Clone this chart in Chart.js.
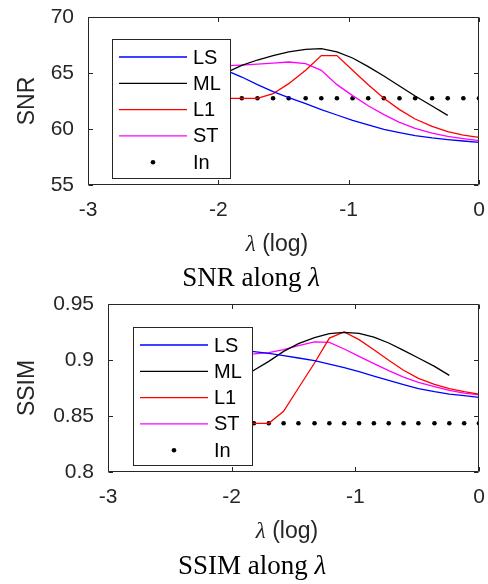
<!DOCTYPE html>
<html>
<head>
<meta charset="utf-8">
<script src="https://cdn.jsdelivr.net/npm/chart.js@4.4.1/dist/chart.umd.min.js"></script>
<style>
  body { margin: 0; background: #fff; }
  #wrap { position: relative; width: 488px; height: 584px; }
  canvas { position: absolute; left: 0; }
  .lab { position: absolute; white-space: nowrap; transform: translateX(-50%); }
  .xl { font: 23px/28px "Liberation Sans", Arial, sans-serif; color: #262626; }
  .cap { font: 27px/32px "Liberation Serif", "Times New Roman", serif; color: #000; }
  .lam { font-family: "Liberation Serif", serif; font-style: italic; }
</style>
</head>
<body>
<div id="wrap">
  <canvas id="snr" width="488" height="292" style="top:0"></canvas>
  <canvas id="ssim" width="488" height="292" style="top:292px"></canvas>
  <div class="lab xl" style="left:277px;top:229px"><span class="lam">λ</span> (log)</div>
  <div class="lab cap" style="left:251px;top:261px">SNR along <span class="lam">λ</span></div>
  <div class="lab xl" style="left:287px;top:516px"><span class="lam">λ</span> (log)</div>
  <div class="lab cap" style="left:252px;top:549px">SSIM along <span class="lam">λ</span></div>
</div>
<script>
// log10(lambda) sample points
var lambda = [-1.94, -1.82, -1.70, -1.58, -1.46, -1.33, -1.21, -1.09, -0.97, -0.85, -0.73, -0.61, -0.49, -0.36, -0.24, -0.12, 0];
var xTicks = [-3, -2, -1, 0];

var names = ['LS', 'ML', 'L1', 'ST', 'In'];
var colors = ['#0000ff', '#000000', '#ff0000', '#ff00ff', '#000000'];

var snrTicks = [55, 60, 65, 70];
var snrLS = [65.24, 64.64, 63.96, 63.33, 62.80, 62.26, 61.73, 61.25, 60.77, 60.36, 59.97, 59.67, 59.40, 59.20, 59.05, 58.93, 58.81];
var snrML = [65.03, 65.68, 66.16, 66.55, 66.88, 67.11, 67.17, 66.88, 66.34, 65.57, 64.73, 63.84, 62.95, 62.05, 61.22, null, null];
var snrL1 = [62.74, 62.74, 62.74, 63.15, 64.05, 65.24, 66.55, 66.55, 65.24, 63.96, 62.74, 61.73, 60.89, 60.24, 59.76, 59.46, 59.26];
var snrST = [65.65, 65.71, 65.80, 65.89, 65.98, 65.83, 65.24, 63.96, 62.98, 62.08, 61.28, 60.59, 60.06, 59.64, 59.35, 59.14, 58.96];
var snrIn = [62.74, 62.74, 62.74, 62.74, 62.74, 62.74, 62.74, 62.74, 62.74, 62.74, 62.74, 62.74, 62.74, 62.74, 62.74, 62.74, 62.74];

var ssimTicks = [0.8, 0.85, 0.9, 0.95];
var ssimLS = [0.9083, 0.9074, 0.9060, 0.9039, 0.9018, 0.8994, 0.8964, 0.8932, 0.8896, 0.8857, 0.8818, 0.8780, 0.8744, 0.8717, 0.8696, 0.8682, 0.8667];
var ssimML = [0.8830, 0.8908, 0.8988, 0.9077, 0.9146, 0.9200, 0.9235, 0.9247, 0.9238, 0.9205, 0.9152, 0.9086, 0.9018, 0.8943, 0.8863, null, null];
var ssimL1 = [0.8435, 0.8435, 0.8435, 0.8542, 0.8750, 0.8973, 0.9196, 0.9250, 0.9182, 0.9092, 0.8997, 0.8908, 0.8836, 0.8783, 0.8744, 0.8717, 0.8696];
var ssimST = [0.9048, 0.9054, 0.9065, 0.9092, 0.9128, 0.9161, 0.9158, 0.9098, 0.9033, 0.8967, 0.8905, 0.8848, 0.8801, 0.8762, 0.8729, 0.8705, 0.8688];
var ssimIn = [0.8435, 0.8435, 0.8435, 0.8435, 0.8435, 0.8435, 0.8435, 0.8435, 0.8435, 0.8435, 0.8435, 0.8435, 0.8435, 0.8435, 0.8435, 0.8435, 0.8435];

var AXIS = '#262626';
var SANS = '"Liberation Sans", Arial, sans-serif';
var LW = 1.3;

function pts(ys) {
  var out = [];
  for (var i = 0; i < lambda.length; i++) {
    if (ys[i] !== null) out.push({ x: lambda[i], y: ys[i] });
  }
  return out;
}

// box with inward ticks on all sides, plus an opaque matlab style legend
var framePlugin = {
  id: 'frame',
  afterDraw: function (chart, args, opts) {
    var ctx = chart.ctx;
    var xs = chart.scales.x, ys = chart.scales.y;
    var L = Math.round(xs.left) + 0.5, R = Math.round(xs.right) - 0.5;
    var T = Math.round(ys.top) + 0.5, B = Math.round(ys.bottom) - 0.5;
    ctx.save();
    ctx.lineWidth = 1;
    ctx.strokeStyle = AXIS;
    ctx.beginPath();
    ctx.moveTo(L, T); ctx.lineTo(R, T); ctx.lineTo(R, B); ctx.lineTo(L, B); ctx.closePath();
    xTicks.forEach(function (v) {
      var px = Math.round(xs.getPixelForValue(v)) + 0.5;
      ctx.moveTo(px, B); ctx.lineTo(px, B - 4.5);
      ctx.moveTo(px, T); ctx.lineTo(px, T + 4.5);
    });
    opts.yTicks.forEach(function (v) {
      var py = Math.round(ys.getPixelForValue(v)) + 0.5;
      ctx.moveTo(L, py); ctx.lineTo(L + 4.5, py);
      ctx.moveTo(R, py); ctx.lineTo(R - 4.5, py);
    });
    ctx.stroke();

    // legend
    var b = opts.box;
    ctx.fillStyle = '#ffffff';
    ctx.fillRect(b.x, b.y, b.w, b.h);
    ctx.strokeStyle = AXIS;
    ctx.strokeRect(b.x + 0.5, b.y + 0.5, b.w, b.h);
    ctx.font = '20px ' + SANS;
    ctx.textBaseline = 'middle';
    ctx.textAlign = 'left';
    for (var i = 0; i < names.length; i++) {
      var ry = b.y + 18 + i * 26.3;
      if (i === names.length - 1) {
        ctx.fillStyle = '#000000';
        ctx.beginPath();
        ctx.arc(b.x + 41, ry, 2.3, 0, Math.PI * 2);
        ctx.fill();
      } else {
        ctx.lineWidth = LW;
        ctx.strokeStyle = colors[i];
        ctx.beginPath();
        ctx.moveTo(b.x + 7, ry); ctx.lineTo(b.x + 75, ry);
        ctx.stroke();
      }
      ctx.fillStyle = '#000000';
      ctx.fillText(names[i], b.x + 81, ry + 1);
    }
    ctx.restore();
  }
};

function makeChart(id, yTitle, yTicks, series, geom) {
  var ds = [];
  for (var i = 0; i < 4; i++) {
    ds.push({ label: names[i], data: pts(series[i]), borderColor: colors[i], backgroundColor: colors[i],
              borderWidth: LW, pointRadius: 0, tension: 0, fill: false });
  }
  ds.push({ label: names[4], data: pts(series[4]), showLine: false, pointRadius: 2.3,
            pointBackgroundColor: colors[4], pointBorderWidth: 0 });

  return new Chart(document.getElementById(id), {
    type: 'line',
    data: { datasets: ds },
    plugins: [framePlugin],
    options: {
      responsive: false,
      animation: false,
      events: [],
      layout: { padding: { top: geom.top, right: 9, left: 0, bottom: 0 } },
      plugins: {
        legend: { display: false },
        tooltip: { enabled: false },
        frame: { yTicks: yTicks, box: geom.legend }
      },
      scales: {
        x: {
          type: 'linear', min: -3, max: 0,
          afterBuildTicks: function (s) { s.ticks = xTicks.map(function (v) { return { value: v }; }); },
          afterFit: function (s) { s.height = geom.xh; s.paddingLeft = 0; s.paddingRight = 0; },
          grid: { display: false, drawTicks: false },
          border: { display: false },
          ticks: { color: AXIS, font: { family: SANS, size: 21 }, padding: 13, maxRotation: 0 }
        },
        y: {
          type: 'linear', min: yTicks[0], max: yTicks[yTicks.length - 1],
          afterBuildTicks: function (s) { s.ticks = yTicks.map(function (v) { return { value: v }; }); },
          afterFit: function (s) { s.width = geom.left; s.paddingTop = 0; s.paddingBottom = 0; },
          grid: { display: false, drawTicks: false },
          border: { display: false },
          title: { display: true, text: yTitle, color: AXIS,
                   font: { family: SANS, size: 23 }, padding: { top: 14, bottom: 0 } },
          ticks: { color: AXIS, font: { family: SANS, size: 21 }, padding: 14,
                   callback: function (v) { return String(Number(v.toFixed(2))); } }
        }
      }
    }
  });
}

makeChart('snr', 'SNR', snrTicks, [snrLS, snrML, snrL1, snrST, snrIn],
  { top: 17, left: 88, xh: 107, legend: { x: 112, y: 39, w: 118, h: 139 } });
makeChart('ssim', 'SSIM', ssimTicks, [ssimLS, ssimML, ssimL1, ssimST, ssimIn],
  { top: 12, left: 108, xh: 112, legend: { x: 133, y: 35, w: 119, h: 138 } });
</script>
</body>
</html>
